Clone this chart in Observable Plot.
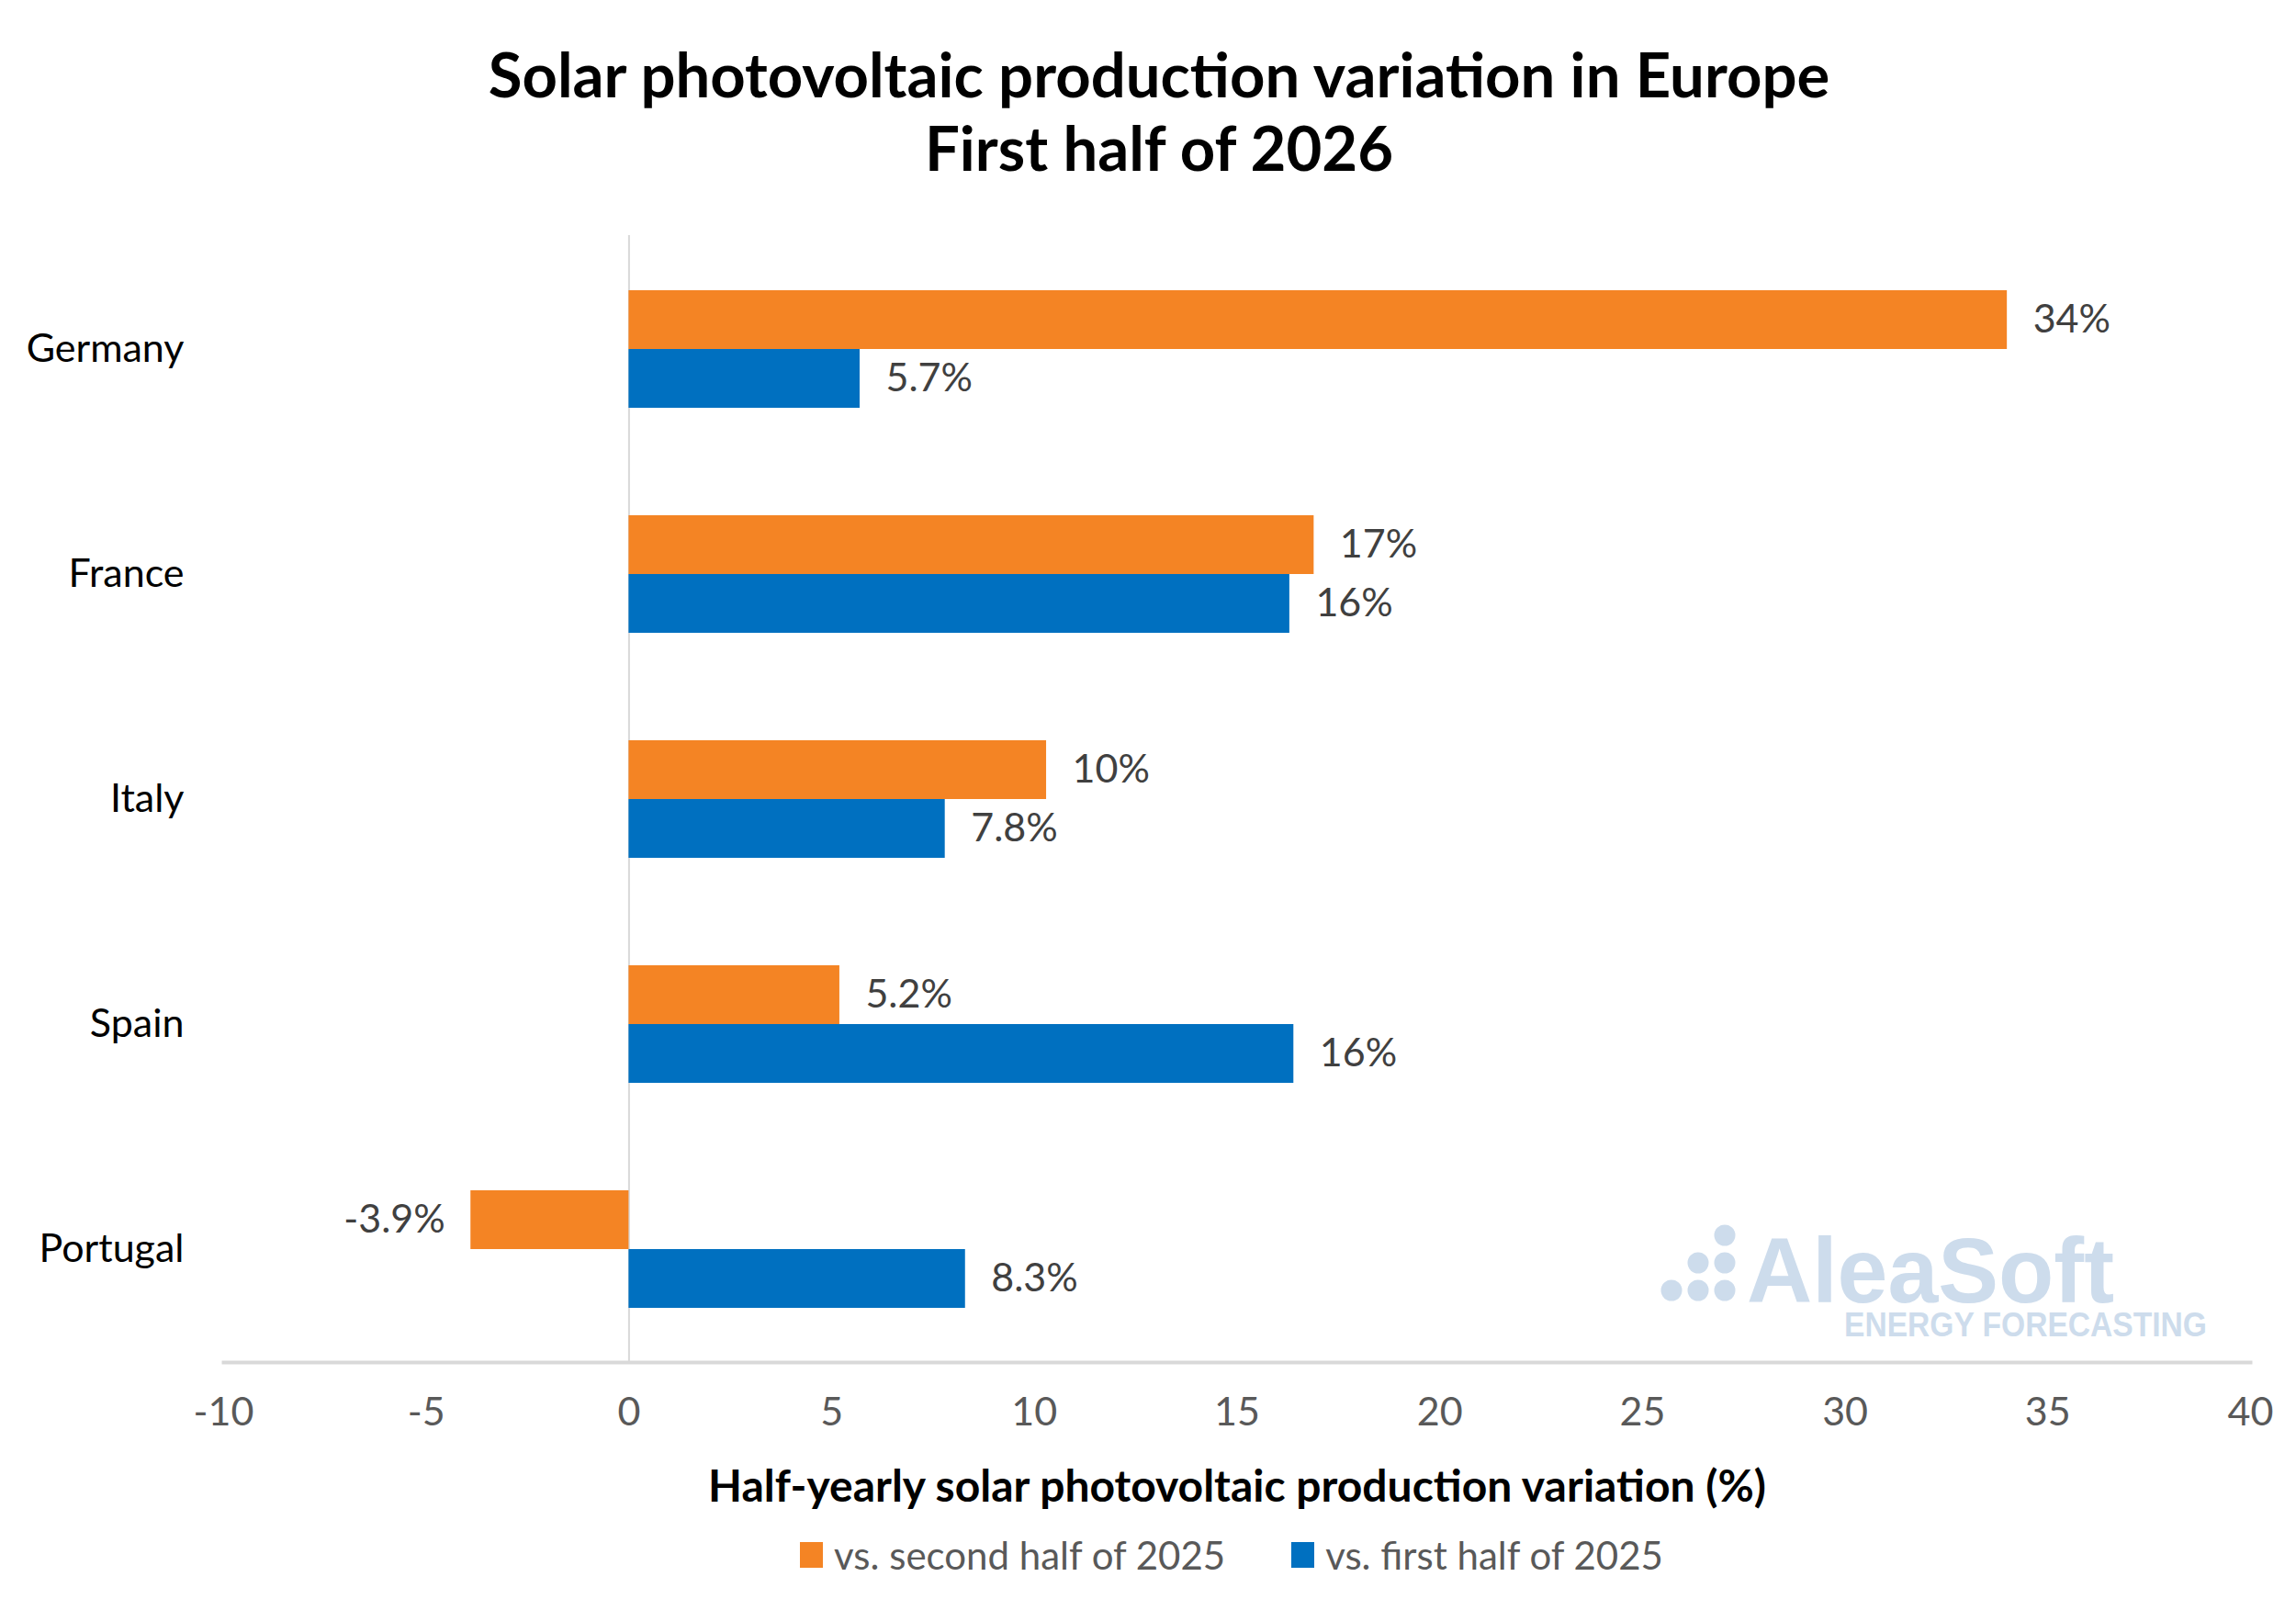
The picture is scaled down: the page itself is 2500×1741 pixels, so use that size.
<!DOCTYPE html>
<html>
<head>
<meta charset="utf-8">
<script src="https://cdn.jsdelivr.net/npm/d3@7"></script>
<script src="https://cdn.jsdelivr.net/npm/@observablehq/plot@0.6"></script>
<style>
  html, body { margin: 0; padding: 0; background: #ffffff; }
  body { width: 2500px; height: 1741px; position: relative; overflow: hidden; font-family: Lato, "Open Sans", sans-serif; }
  #title { width: 2500px; box-sizing: border-box; padding-top: 40px; padding-left: 24px; height: 200px;
           text-align: center; font-weight: 700; font-size: 67px; line-height: 80px; color: #000; }
  #legend { display: flex; justify-content: center; align-items: center; box-sizing: border-box; margin-top: -8px;
            width: 2500px; padding-left: 232px; padding-right: 50px; height: 81px; font-size: 42px; color: #595959; }
  .item { display: flex; align-items: center; margin: 0 36px; }
  .sw { width: 25px; height: 28px; margin-right: 12px; }
  #wm { position: absolute; left: 1780px; top: 1300px; }
</style>
</head>
<body>
<div id="title"></div>
<div id="chart"></div>
<div id="legend"></div>
<svg id="wm" width="700" height="180"></svg>
<script>
const titleLines = ["Solar photovoltaic production variation in Europe", "First half of 2026"];
const countries = ["Germany", "France", "Italy", "Spain", "Portugal"];
const seriesNames = ["vs. second half of 2025", "vs. first half of 2025"];
const seriesColors = ["#F48424", "#0070C0"];
const vsSecondHalf2025 = [34.0, 16.9, 10.3, 5.2, -3.9];
const vsFirstHalf2025 = [5.7, 16.3, 7.8, 16.4, 8.3];
const xTicks = [-10, -5, 0, 5, 10, 15, 20, 25, 30, 35, 40];
const xTitle = "Half-yearly solar photovoltaic production variation (%)";

const fmt = v => (Math.abs(v) >= 10 ? Math.round(v).toString() : v.toFixed(1)) + "%";

const orange = countries.map((c, i) => ({country: c, value: vsSecondHalf2025[i], label: fmt(vsSecondHalf2025[i])}));
const blue = countries.map((c, i) => ({country: c, value: vsFirstHalf2025[i], label: fmt(vsFirstHalf2025[i])}));

document.getElementById("title").innerHTML = titleLines.map(t => `<div>${t}</div>`).join("");

const half = 64;
const labelStyle = {fontSize: 43, fill: "#404040"};

const plot = Plot.plot({
  width: 2500,
  height: 1460,
  marginLeft: 243,
  marginRight: 50,
  marginTop: 56,
  marginBottom: 177,
  style: {fontFamily: "Lato, 'Open Sans', sans-serif", background: "#ffffff"},
  x: {domain: [-10, 40]},
  y: {domain: countries, paddingInner: 0.478, paddingOuter: 0.239},
  marks: [
    Plot.ruleX([0], {stroke: "#d9d9d9", strokeWidth: 2}),
    Plot.frame({anchor: "bottom", stroke: "#d9d9d9", strokeWidth: 4}),
    Plot.barX(orange, {x: "value", y: "country", fill: seriesColors[0], insetBottom: half}),
    Plot.barX(blue, {x: "value", y: "country", fill: seriesColors[1], insetTop: half}),
    Plot.text(orange, {x: "value", y: "country", text: "label", dy: -half / 2,
      textAnchor: "start", ...labelStyle, filter: d => d.value >= 0, dx: 28}),
    Plot.text(orange, {x: "value", y: "country", text: "label", dy: -half / 2,
      textAnchor: "end", ...labelStyle, filter: d => d.value < 0, dx: -28}),
    Plot.text(blue, {x: "value", y: "country", text: "label", dy: half / 2,
      textAnchor: "start", ...labelStyle, filter: d => d.value >= 0, dx: 28}),
    Plot.text(blue, {x: "value", y: "country", text: "label", dy: half / 2,
      textAnchor: "end", ...labelStyle, filter: d => d.value < 0, dx: -28}),
    Plot.axisY({tickSize: 0, tickPadding: 43, fontSize: 43, fill: "#000000", label: null}),
    Plot.axisX({ticks: xTicks, tickFormat: d => String(d), tickSize: 0, tickPadding: 38, fontSize: 43, fill: "#595959", label: null}),
    Plot.text([xTitle], {frameAnchor: "bottom", dy: 136, lineAnchor: "middle", text: d => d,
      fontSize: 48, fontWeight: "bold", fill: "#000000"})
  ]
});
document.getElementById("chart").appendChild(plot);

document.getElementById("legend").innerHTML = seriesNames.map((n, i) =>
  `<div class="item"><div class="sw" style="background:${seriesColors[i]}"></div><span>${n}</span></div>`).join("");

// watermark (decorative logo)
const wm = d3.select("#wm");
const wmColor = "#cddcec";
[[1,0],[0,1],[1,1],[-1,2],[0,2],[1,2]].forEach(([c, r]) => {
  wm.append("circle").attr("cx", 69 + c * 29).attr("cy", 45 + r * 30).attr("r", 11.5).attr("fill", wmColor);
});
wm.append("text").attr("x", 122).attr("y", 118).attr("font-family", "Liberation Sans, Arial, sans-serif")
  .attr("font-weight", "bold").attr("font-size", 100).attr("fill", wmColor)
  .attr("textLength", 400).attr("lengthAdjust", "spacingAndGlyphs").text("AleaSoft");
wm.append("text").attr("x", 228).attr("y", 155).attr("font-family", "Liberation Sans, Arial, sans-serif")
  .attr("font-weight", "bold").attr("font-size", 36).attr("fill", wmColor)
  .attr("textLength", 395).attr("lengthAdjust", "spacingAndGlyphs").text("ENERGY FORECASTING");
</script>
</body>
</html>
